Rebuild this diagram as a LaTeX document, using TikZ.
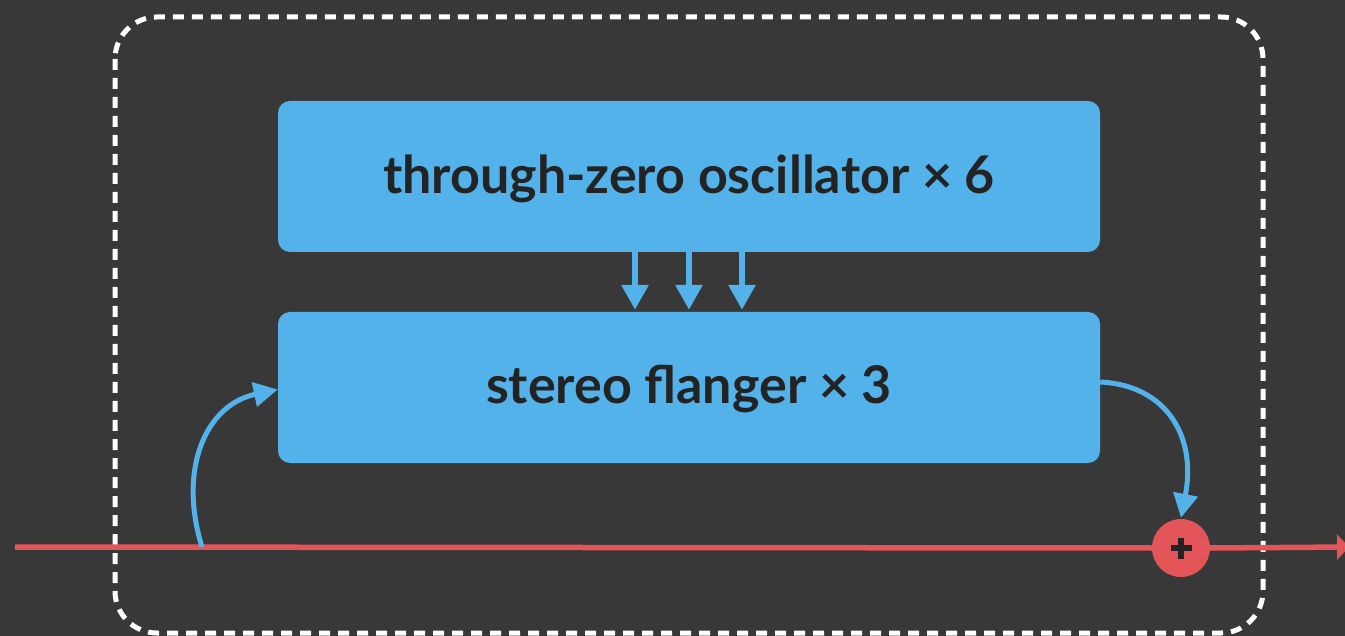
\documentclass[tikz,border=0pt]{standalone}
\usepackage{fontspec}
\setmainfont{Lato}
\usetikzlibrary{arrows.meta}
\definecolor{bgcol}{HTML}{383838}
\definecolor{boxblue}{HTML}{53B2EA}
\definecolor{sigred}{HTML}{E4555A}
\definecolor{inkdark}{HTML}{232323}
\tikzset{
  unitbox/.style={fill=boxblue, rounded corners=12pt, minimum width=822pt,
    minimum height=151pt, inner sep=0pt, font=\bfseries\fontsize{52}{58}\selectfont,
    text=inkdark, text depth=0pt, text height=#1},
  unitbox/.default=34pt,
  bluearrow/.style={draw=boxblue, line width=6pt,
    -{Triangle[width=26pt,length=25pt]}},
  curvearrow/.style={draw=boxblue, line width=5pt,
    -{Triangle[width=24pt,length=24pt]}},
  signal/.style={draw=sigred, line width=5.5pt},
  frame/.style={draw=white, line width=5pt, dash pattern=on 11pt off 8pt,
    rounded corners=42pt},
}
\begin{document}
\begin{tikzpicture}[x=1pt,y=-1pt]
  \fill[bgcol] (0,0) rectangle (1345,636);
  \useasboundingbox (0,0) rectangle (1345,636);

  % enclosing module frame
  \draw[frame] (115,17) rectangle (1263,633);

  % processing blocks
  \node[unitbox=35pt] (osc) at (689,176.5) {through-zero oscillator × 6};
  \node[unitbox=31pt] (flg) at (689,387.5) {stereo flanger × 3};

  % modulation feeds
  \foreach \dx in {-54,0,53} {
    \draw[bluearrow] ([xshift=\dx pt]osc.south) -- ([xshift=\dx pt, yshift=2pt]flg.north);
  }

  % signal path
  \coordinate (in) at (15,547);
  \coordinate (out) at (1345,547);
  \coordinate (tap) at (202,547);
  \node[circle, fill=sigred, minimum size=58pt, inner sep=0pt] (sum) at (1181,548) {};
  \draw[signal] (in) -- (sum.west);
  \draw[signal, -{Triangle[width=25pt,length=12pt]}] (sum.east) -- ([xshift=4pt]out);
  \draw[draw=inkdark, line width=5.5pt] ([xshift=-10.5pt]sum.center) -- ([xshift=10.5pt]sum.center);
  \draw[draw=inkdark, line width=5.5pt] ([yshift=-10.5pt]sum.center) -- ([yshift=10.5pt]sum.center);

  % dry tap into the flanger and wet return to the sum
  \draw[curvearrow] (tap) .. controls (178,470) and (205,405) .. ([yshift=-2pt]flg.west);
  \draw[curvearrow] (flg.east |- 0,382) .. controls (1165,385) and (1197,435) .. ([yshift=1pt]sum.north);
\end{tikzpicture}
\end{document}
